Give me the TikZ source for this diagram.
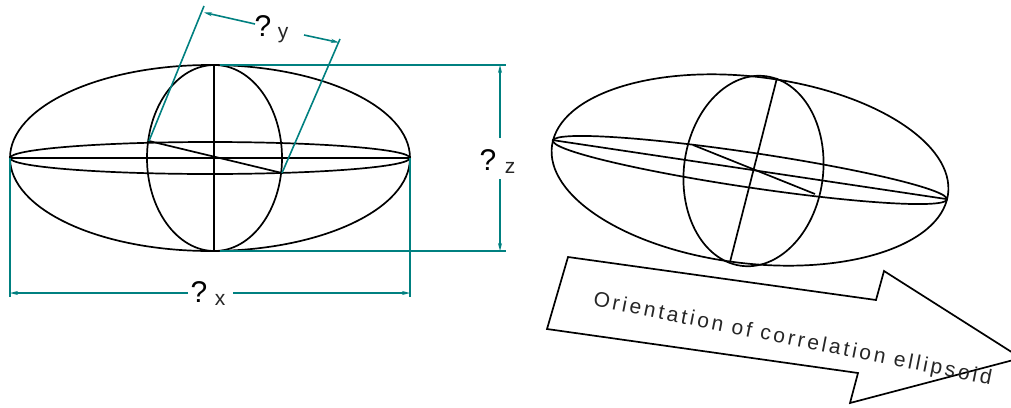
\documentclass[tikz,border=0pt]{standalone}
\usepackage{fontspec}
\setmainfont{Liberation Sans}
\newfontfamily\spaced[LetterSpace=14]{Liberation Sans}
\usetikzlibrary{arrows.meta}
\definecolor{dimteal}{RGB}{0,128,128}
\tikzset{
  axisline/.style={line width=1.7pt,black},
  dimline/.style={line width=1.6pt,dimteal},
  dimarrow/.style={dimline,-{Stealth[length=8pt,width=4pt]}},
  bigmark/.style={inner sep=0pt,font=\fontsize{30}{30}\selectfont},
  submark/.style={inner sep=0pt,font=\fontsize{21}{21}\selectfont,text=black!85},
}
\begin{document}
\begin{tikzpicture}[x=1pt,y=-1pt]
      \useasboundingbox (0,0) rectangle (1011,407);
      % left ellipsoid
      \coordinate (C) at (210,158);
      \coordinate (M) at (214.5,158);
      \draw [axisline] (C) ellipse [x radius=200,y radius=93];
      \draw [axisline] (C) ellipse [x radius=200,y radius=16];
      \draw [axisline] (M) ellipse [x radius=67.5,y radius=93];
      \coordinate (A) at (10,158);
      \coordinate (B) at (410,158);
      \coordinate (T) at (214,65);
      \coordinate (U) at (214,251);
      \coordinate (P) at (149,141);
      \coordinate (Q) at (282,173);
      \draw [axisline] (A) to (B);
      \draw [axisline] (T) to (U);
      \draw [axisline] (P) to (Q);
      % dimension lines
      \coordinate (Y1) at (204,6);
      \coordinate (Y2) at (340,39);
      \coordinate (Z1) at (506,65);
      \coordinate (Z2) at (506,251);
      \coordinate (X1) at (10,297);
      \coordinate (X2) at (410,297);
      \draw [dimline] (P) to (Y1);
      \draw [dimline] (Q) to (Y2);
      \draw [dimline] (T) ++(6,0) to (Z1);
      \draw [dimline] (U) ++(6,0) to (Z2);
      \draw [dimline] (A) to (X1);
      \draw [dimline] (B) to (X2);
      \node [bigmark] (QY) at (263,26) {?};
      \node [submark] (LY) at (283,35) {y};
      \node [bigmark] (QZ) at (488,160) {?};
      \node [submark] (LZ) at (510,168) {z};
      \node [bigmark] (QX) at (199,292) {?};
      \node [submark] (LX) at (220,300) {x};
      \coordinate (YA) at (204,12.5);
      \coordinate (YB) at (339,42.5);
      \coordinate (ZA) at (500,65);
      \coordinate (ZB) at (500,251);
      \coordinate (XA) at (10,293);
      \coordinate (XB) at (410,293);
      \draw [dimarrow] (255,24) to (YA);
      \draw [dimarrow] (304,35) to (YB);
      \draw [dimarrow] (500,138) to (ZA);
      \draw [dimarrow] (500,179) to (ZB);
      \draw [dimarrow] (188,293) to (XA);
      \draw [dimarrow] (233,293) to (XB);
      % right ellipsoid
      \coordinate (D) at (750,170);
      \draw [axisline,cm={197,-29.5,23.5,91,(D)}] (0,0) circle (1pt);
      \draw [axisline,cm={197,-29.5,4,17,(D)}] (0,0) circle (1pt);
      \coordinate (E) at (753.5,171);
      \draw [axisline,cm={66,-24.5,23.5,92,(E)}] (0,0) circle (1pt);
      \coordinate (F) at (552,140);
      \coordinate (G) at (946,199);
      \coordinate (H) at (777,78);
      \coordinate (J) at (730,262);
      \coordinate (K) at (693,145);
      \coordinate (L) at (815,194);
      \draw [axisline] (F) to (G);
      \draw [axisline] (H) to (J);
      \draw [axisline] (K) to (L);
      % block arrow
      \draw [axisline,line join=miter] (568,257) -- (876,300) -- (884,271) -- (1021,358) -- (850,403) -- (858,373) -- (547,329) -- cycle;
      \node [inner sep=0pt,rotate=-11.3,text=black!85,font=\spaced\fontsize{21}{21}\selectfont] (N) at (792.5,340) {Orientation of correlation ellipsoid};
\end{tikzpicture}
\end{document}
